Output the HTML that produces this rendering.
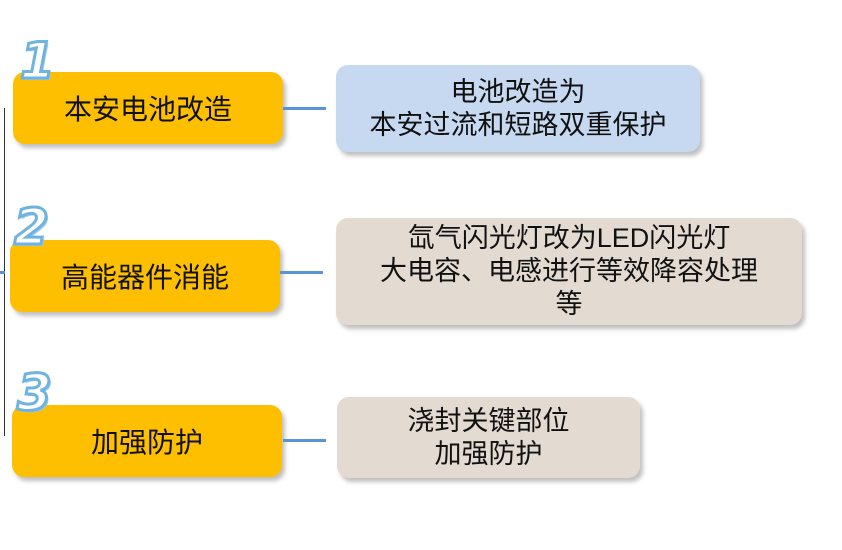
<!DOCTYPE html>
<html><head><meta charset="utf-8"><style>
body{margin:0;width:842px;height:550px;background:#fff;position:relative;overflow:hidden;font-family:"Liberation Sans","Noto Sans CJK SC",sans-serif}
.y{position:absolute;background:#fdbf00;border-radius:12px;box-shadow:3px 4px 4px rgba(0,0,0,.25);display:flex;align-items:center;justify-content:center;font-size:28px;color:#111;width:270px;height:72px}
.r{position:absolute;border-radius:12px;box-shadow:3px 4px 4px rgba(0,0,0,.25);display:flex;align-items:center;justify-content:center;text-align:center;font-size:27px;line-height:33px;color:#111}
.c{position:absolute;height:3px;background:#5b93d8;width:43px}
.n{position:absolute;font-size:50px;font-style:italic;font-weight:bold;color:#fff;-webkit-text-stroke:3px #6fb3e0;text-shadow:2px 2px 0 #9cc9ea;font-family:"DejaVu Sans",sans-serif}
</style></head><body>
<div style="position:absolute;left:4px;top:108px;width:1px;height:328px;background:#333"></div>
<div style="position:absolute;left:0;top:271px;width:5px;height:3px;background:#5b93d8"></div>
<div class="y" style="left:13px;top:72px">本安电池改造</div>
<div class="y" style="left:10px;top:240px">高能器件消能</div>
<div class="y" style="left:12px;top:405px">加强防护</div>
<div class="n" style="left:20px;top:32px">1</div>
<div class="n" style="left:14px;top:198px">2</div>
<div class="n" style="left:17px;top:364px">3</div>
<div class="c" style="left:283px;top:107px"></div>
<div class="c" style="left:280px;top:271px"></div>
<div class="c" style="left:283px;top:439px"></div>
<div class="r" style="left:336px;top:65px;width:364px;height:87px;background:#c7d8f1">电池改造为<br>本安过流和短路双重保护</div>
<div class="r" style="left:336px;top:218px;width:466px;height:107px;background:#e3dad1">氙气闪光灯改为LED闪光灯<br>大电容、电感进行等效降容处理<br>等</div>
<div class="r" style="left:337px;top:397px;width:303px;height:81px;background:#e3dad1">浇封关键部位<br>加强防护</div>
</body></html>
